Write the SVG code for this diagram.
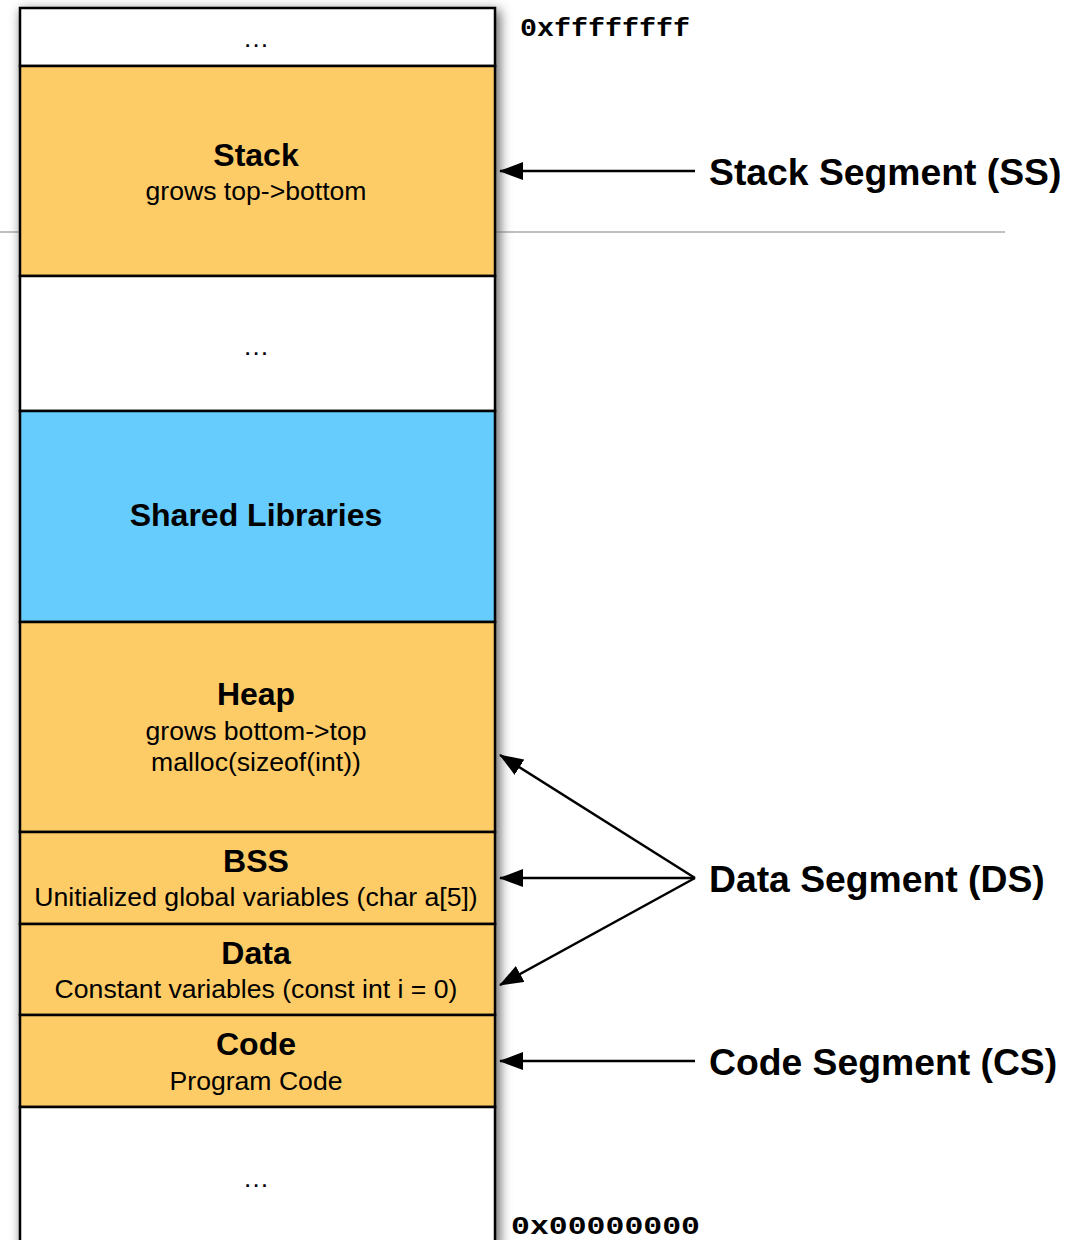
<svg xmlns="http://www.w3.org/2000/svg" width="1087" height="1240" viewBox="0 0 1087 1240">
<style>
.box{stroke:#000;stroke-width:2.5}
.w{fill:#fff}.o{fill:#fecc66}.b{fill:#66ccfe}
.t{font-family:"Liberation Sans",Arial,sans-serif;font-weight:bold;font-size:32px;text-anchor:middle;fill:#000}
.s{font-family:"Liberation Sans",Arial,sans-serif;font-size:26.6px;text-anchor:middle;fill:#000}
.l{font-family:"Liberation Sans",Arial,sans-serif;font-weight:bold;font-size:37.3px;fill:#000}
.m{font-family:"Liberation Mono","Courier New",monospace;font-weight:bold;fill:#000}
.c{stroke:#000;stroke-width:2.5;fill:none}
</style>
<defs>
<filter id="sh" x="-20%" y="-5%" width="140%" height="110%">
<feGaussianBlur stdDeviation="6"/>
</filter>
<marker id="ah" viewBox="0 0 24 18" refX="23" refY="9" markerWidth="24" markerHeight="18" markerUnits="userSpaceOnUse" orient="auto">
<path d="M24,9 L0,0 L0,18 Z" fill="#000"/>
</marker>
</defs>
<rect width="1087" height="1240" fill="#fff"/>
<line x1="0" y1="232" x2="1005" y2="232" stroke="#aaa" stroke-width="1.5"/>
<rect x="21" y="10" width="479" height="1240" fill="#666" filter="url(#sh)"/>
<g id="top"><rect class="box w" x="20" y="8" width="475" height="58"/><text class="s" x="256" y="47">…</text></g>
<g id="stack"><rect class="box o" x="20" y="66" width="475" height="210"/><text class="t" x="256" y="166">Stack</text><text class="s" x="256" y="200">grows top-&gt;bottom</text></g>
<g id="gap1"><rect class="box w" x="20" y="276" width="475" height="135"/><text class="s" x="256" y="355">…</text></g>
<g id="shared"><rect class="box b" x="20" y="411" width="475" height="211"/><text class="t" x="256" y="526">Shared Libraries</text></g>
<g id="heap"><rect class="box o" x="20" y="622" width="475" height="210"/><text class="t" x="256" y="705">Heap</text><text class="s" x="256" y="740">grows bottom-&gt;top</text><text class="s" x="256" y="771">malloc(sizeof(int))</text></g>
<g id="bss"><rect class="box o" x="20" y="832" width="475" height="92"/><text class="t" x="256" y="872">BSS</text><text class="s" x="256" y="906">Unitialized global variables (char a[5])</text></g>
<g id="data"><rect class="box o" x="20" y="924" width="475" height="91"/><text class="t" x="256" y="964">Data</text><text class="s" x="256" y="998">Constant variables (const int i = 0)</text></g>
<g id="code"><rect class="box o" x="20" y="1015" width="475" height="92"/><text class="t" x="256" y="1055">Code</text><text class="s" x="256" y="1090">Program Code</text></g>
<g id="bottom"><rect class="box w" x="20" y="1107" width="475" height="150"/><text class="s" x="256" y="1187">…</text></g>
<g id="addr">
<text class="m" x="520" y="36" font-size="25" textLength="170" lengthAdjust="spacingAndGlyphs">0xffffffff</text>
<text class="m" x="511" y="1234" font-size="26" textLength="189" lengthAdjust="spacingAndGlyphs">0x00000000</text>
</g>
<g id="connectors">
<line class="c" x1="695" y1="171" x2="500" y2="171" marker-end="url(#ah)"/>
<line class="c" x1="695" y1="878" x2="500" y2="755" marker-end="url(#ah)"/>
<line class="c" x1="695" y1="878" x2="500" y2="878" marker-end="url(#ah)"/>
<line class="c" x1="695" y1="878" x2="500" y2="985" marker-end="url(#ah)"/>
<line class="c" x1="695" y1="1061" x2="500" y2="1061" marker-end="url(#ah)"/>
</g>
<g id="labels">
<text class="l" x="709" y="185">Stack Segment (SS)</text>
<text class="l" x="709" y="892">Data Segment (DS)</text>
<text class="l" x="709" y="1075">Code Segment (CS)</text>
</g>
</svg>
